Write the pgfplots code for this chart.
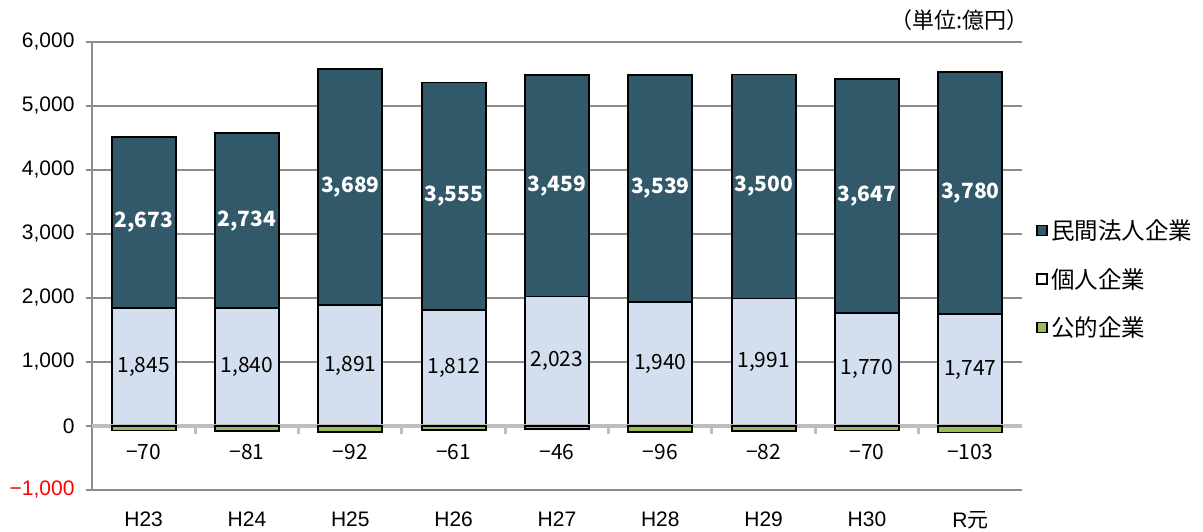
\documentclass[border=0pt]{standalone}
\usepackage{pgfplots}
\usepackage{pgfplotstable}
\pgfplotsset{compat=1.18}
\usepackage{fontspec}
\setmainfont{Noto Sans CJK JP}
\newfontfamily\arial{Liberation Sans}
\definecolor{corcol}{HTML}{31596A}
\definecolor{indcol}{HTML}{D3DFEE}
\definecolor{pubcol}{HTML}{9BBB59}
\definecolor{gridcol}{HTML}{8C8C8C}
\definecolor{zerocol}{HTML}{BEBEBE}
\pgfplotstableread{
x cor ind pub
0 2673 1845 -70
1 2734 1840 -81
2 3689 1891 -92
3 3555 1812 -61
4 3459 2023 -46
5 3539 1940 -96
6 3500 1991 -82
7 3647 1770 -70
8 3780 1747 -103
}\datatable
\pgfplotsset{
  base/.style={
    at={(0pt,0pt)}, anchor=south west,
    scale only axis, width=930pt, height=448pt,
    xmin=-0.5, xmax=8.5, ymin=-1000, ymax=6000,
    /pgf/number format/assume math mode=true,
  },
}
\begin{document}
\begin{tikzpicture}
\begin{axis}[base,
  ybar stacked, bar width=64pt,
  axis lines*=left,
  axis line style={draw=gridcol, line width=1.6pt},
  ymajorgrids, grid style={draw=gridcol, line width=1.3pt},
  ytick={-1000,0,1000,2000,3000,4000,5000,6000},
  yticklabels={{\textcolor{red}{−1,000}},0,{1,000},{2,000},{3,000},{4,000},{5,000},{6,000}},
  xtick={0,1,2,3,4,5,6,7,8},
  xticklabels={H23,H24,H25,H26,H27,H28,H29,H30,{R{\rmfamily 元}}},
  xtick style={draw=none},
  ytick style={draw=gridcol, line width=1.3pt},
  tick align=outside, major tick length=6pt,
  yticklabel style={font=\arial\fontsize{21}{24}\selectfont, xshift=-8pt},
  xticklabel style={font=\arial\fontsize{21}{24}\selectfont, yshift=-12pt},
]
\draw[zerocol, line width=3.5pt] (axis cs:-0.5,0) -- (axis cs:8.5,0);
\pgfplotsinvokeforeach{0.5,1.5,2.5,3.5,4.5,5.5,6.5,7.5}{
  \draw[zerocol, line width=3pt] (axis cs:#1,0) -- ++(0pt,-8pt);
}
\addplot[fill=indcol, draw=black, line width=1.7pt] table[x=x, y=ind] {\datatable};
\addplot[fill=corcol, draw=black, line width=1.7pt] table[x=x, y=cor] {\datatable};
\end{axis}
\begin{axis}[base, hide axis, clip=false,
  /pgf/number format/.cd, fixed, precision=0, 1000 sep={,},
  /pgfplots/.cd,
  legend image code/.code={\draw[#1, draw=black, line width=1.3pt] (0pt,-5pt) rectangle (10pt,5pt);},
  legend style={at={(1,0.471)}, anchor=west, xshift=14pt, draw=none, fill=none,
    font=\fontsize{23.5}{27}\selectfont, row sep=23pt, inner sep=0pt,
    nodes={inner xsep=3.5pt}},
  legend cell align=left,
]
\addplot[ybar, bar width=64pt, bar shift=0pt, fill=pubcol, draw=black, line width=1.7pt, forget plot]
  table[x=x, y=pub] {\datatable};
\addplot[only marks, mark=none, forget plot, point meta=explicit,
  nodes near coords={\pgfmathprintnumber{\pgfplotspointmeta}},
  every node near coord/.append style={anchor=center, font=\fontsize{21}{24}\selectfont, text=black}]
  table[x=x, y expr=\thisrow{ind}/2, meta=ind] {\datatable};
\addplot[only marks, mark=none, forget plot, point meta=explicit,
  nodes near coords={\pgfmathprintnumber{\pgfplotspointmeta}},
  every node near coord/.append style={anchor=center, font=\bfseries\fontsize{21}{24}\selectfont, text=white}]
  table[x=x, y expr=\thisrow{ind}+\thisrow{cor}/2, meta=cor] {\datatable};
\addplot[only marks, mark=none, forget plot, point meta={abs(\thisrow{pub})},
  nodes near coords={−\pgfmathprintnumber{\pgfplotspointmeta}},
  every node near coord/.append style={anchor=center, yshift=-26pt, font=\fontsize{21}{24}\selectfont, text=black}]
  table[x=x, y expr=0] {\datatable};
\addlegendimage{fill=corcol}
\addlegendentry{民間法人企業}
\addlegendimage{fill=white}
\addlegendentry{個人企業}
\addlegendimage{fill=pubcol}
\addlegendentry{公的企業}
\node[anchor=east, font=\fontsize{22}{26}\selectfont, inner sep=0pt] at (rel axis cs:1,1) [xshift=7pt, yshift=22pt] {（単位:億円）};
\end{axis}
\pgfresetboundingbox
\path[use as bounding box] (-92pt,-41pt) rectangle (1111pt,490pt);
\end{tikzpicture}
\end{document}
